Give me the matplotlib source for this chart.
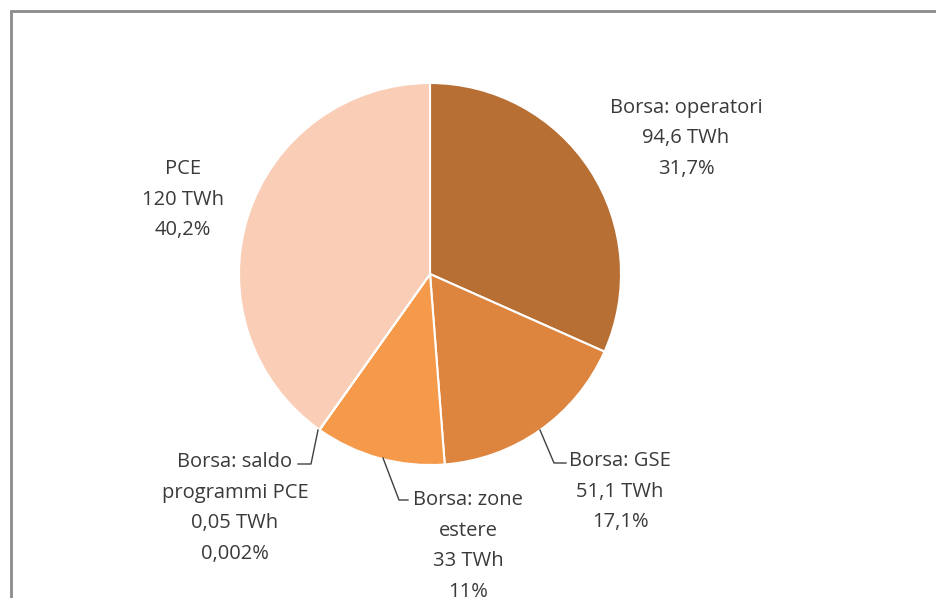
import matplotlib
matplotlib.use("Agg")
import matplotlib.pyplot as plt
from matplotlib.lines import Line2D
from matplotlib.patches import Rectangle

labels = ["Borsa: operatori", "Borsa: GSE", "Borsa: zone\nestere", "Borsa: saldo\nprogrammi PCE", "PCE"]
twh = [94.6, 51.1, 33, 0.05, 120]
twh_text = ["94,6 TWh", "51,1 TWh", "33 TWh", "0,05 TWh", "120 TWh"]
pct_text = ["31,7%", "17,1%", "11%", "0,002%", "40,2%"]
colors = ["#B86F33", "#DD843F", "#F5994A", "#F5994A", "#F9CDB6"]

W, H = 936, 598
fig = plt.figure(figsize=(W / 100, H / 100), dpi=100)
plt.rcParams['font.family'] = ['Open Sans', 'DejaVu Sans']

def fx(x):
    return x / W

def fy(y):
    return 1 - y / H

# frame (open on right and bottom, extends beyond image)
fig.patches.append(Rectangle((fx(10.5), fy(700)), fx(1000), fy(11) - fy(700),
                             transform=fig.transFigure, fill=False,
                             edgecolor="#8C8C8C", linewidth=2))

cx, cy, r = 430, 274, 191
ax = fig.add_axes([fx(cx - r), fy(cy + r), (2 * r) / W, (2 * r) / H])
ax.pie(twh, colors=colors, startangle=90, counterclock=False,
       wedgeprops=dict(edgecolor="white", linewidth=1.5))
ax.set_xlim(-1, 1)
ax.set_ylim(-1, 1)
ax.set_aspect("equal")
ax.axis("off")

fs = 14.5
tc = "#3A3A3A"
def put(x, y, txt, ha="center"):
    fig.text(fx(x), fy(y), txt, ha=ha, va="center", fontsize=fs, color=tc,
             linespacing=1.7)

put(686, 138, f"{labels[0]}\n{twh_text[0]}\n{pct_text[0]}")
put(620, 492, f"{labels[1]}\n{twh_text[1]}\n{pct_text[1]}")
put(468, 546, f"{labels[2]}\n{twh_text[2]}\n{pct_text[2]}")
put(235, 508, f"{labels[3]}\n{twh_text[3]}\n{pct_text[3]}")
put(183, 200, f"{labels[4]}\n{twh_text[4]}\n{pct_text[4]}")

def leader(pts):
    xs = [fx(p[0]) for p in pts]
    ys = [fy(p[1]) for p in pts]
    fig.add_artist(Line2D(xs, ys, color="#404040", linewidth=1, transform=fig.transFigure))

leader([(540, 430), (554, 463), (566, 463)])
leader([(383, 458), (399, 500), (408, 500)])
leader([(318, 430), (311, 464), (298, 464)])

fig.savefig("out.png", dpi=100, facecolor="white")
